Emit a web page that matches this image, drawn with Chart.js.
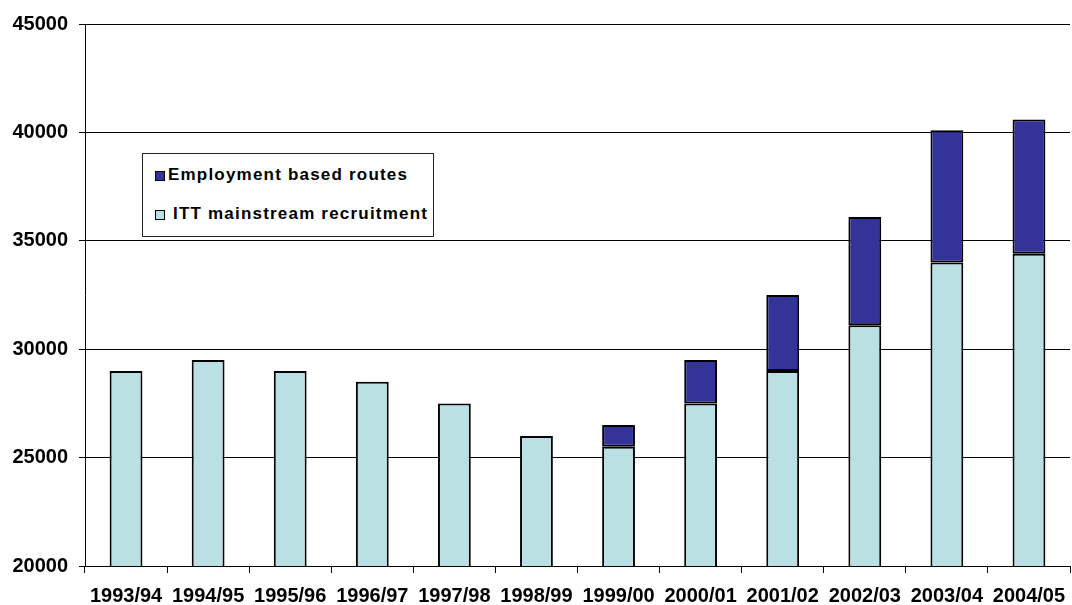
<!DOCTYPE html>
<html>
<head>
<meta charset="utf-8">
<script src="https://cdn.jsdelivr.net/npm/chart.js@4.4.0/dist/chart.umd.min.js"></script>
<style>
    body { margin: 0; background: #fff; }
    .chart__wrap { position: relative; width: 1072px; height: 605px; }
    .chart__legend {
        position: absolute; left: 142px; top: 153px; width: 292px; height: 84px;
        box-sizing: border-box; border: 1px solid #222; background: #fff;
        font-family: "Liberation Sans", Arial, sans-serif; font-weight: bold;
        font-size: 17px; letter-spacing: 1.2px; color: #000;
    }
    .chart__legend-box {
        position: absolute; left: 12px; width: 10px; height: 10px;
        box-sizing: border-box; border: 1px solid #000;
    }
    .chart__legend-text { position: absolute; line-height: 20px; white-space: nowrap; }
</style>
</head>
<body>
<div class="chart__wrap">
    <canvas id="myChart" width="1072" height="605"></canvas>
    <div class="chart__legend">
        <div class="chart__legend-box" style="top:17px;background:#333399"></div>
        <div class="chart__legend-text" style="left:25px;top:11px">Employment based routes</div>
        <div class="chart__legend-box" style="top:56px;background:#BBE0E3"></div>
        <div class="chart__legend-text" style="left:30px;top:50px">ITT mainstream recruitment</div>
    </div>
</div>
<script>
const categories = ['1993/94', '1994/95', '1995/96', '1996/97', '1997/98', '1998/99',
    '1999/00', '2000/01', '2001/02', '2002/03', '2003/04', '2004/05'];
const ittMainstream = [29000, 29500, 29000, 28500, 27500, 26000, 25500, 27500, 29000, 31100, 34000, 34400];
const employmentBased = [null, null, null, null, null, null, 1000, 2000, 3500, 5000, 6100, 6200];
const yTicks = [20000, 25000, 30000, 35000, 40000, 45000];

const tickFont = { family: '"Liberation Sans", Arial, sans-serif', size: 20, weight: 'bold', lineHeight: 1 };

const ctx = document.getElementById('myChart').getContext('2d');
const myChart = new Chart(ctx, {
    type: 'bar',
    data: {
        labels: categories,
        datasets: [{
            label: 'ITT mainstream recruitment',
            data: ittMainstream,
            backgroundColor: '#BBE0E3',
            borderColor: '#000',
            borderWidth: 2,
            borderSkipped: false,
            barPercentage: 0.8,
            categoryPercentage: 0.5
        }, {
            label: 'Employment based routes',
            data: employmentBased,
            backgroundColor: '#333399',
            borderColor: '#000',
            borderWidth: 2,
            borderSkipped: false,
            barPercentage: 0.8,
            categoryPercentage: 0.5
        }]
    },
    options: {
        responsive: false,
        devicePixelRatio: 1,
        animation: false,
        layout: { padding: { top: 24, right: 2, bottom: 0, left: 0 } },
        plugins: {
            legend: { display: false },
            tooltip: { enabled: false }
        },
        scales: {
            x: {
                stacked: true,
                grid: { drawOnChartArea: false, tickLength: 7, color: '#000', offset: true },
                border: { color: '#000', width: 1 },
                ticks: { font: tickFont, color: '#000', padding: 13, autoSkip: false, maxRotation: 0 },
                afterFit: function (scale) {
                    scale.height = 39;
                    scale.paddingLeft = 0;
                    scale.paddingRight = 0;
                }
            },
            y: {
                stacked: true,
                min: yTicks[0],
                max: yTicks[yTicks.length - 1],
                afterBuildTicks: function (scale) { scale.ticks = yTicks.map(v => ({ value: v })); },
                grid: { color: '#000', tickLength: 6 },
                border: { color: '#000', width: 1 },
                ticks: {
                    font: tickFont, color: '#000', padding: 11,
                    callback: function (value) { return String(value); }
                },
                afterFit: function (scale) { scale.width = 85; }
            }
        }
    }
});
</script>
</body>
</html>
